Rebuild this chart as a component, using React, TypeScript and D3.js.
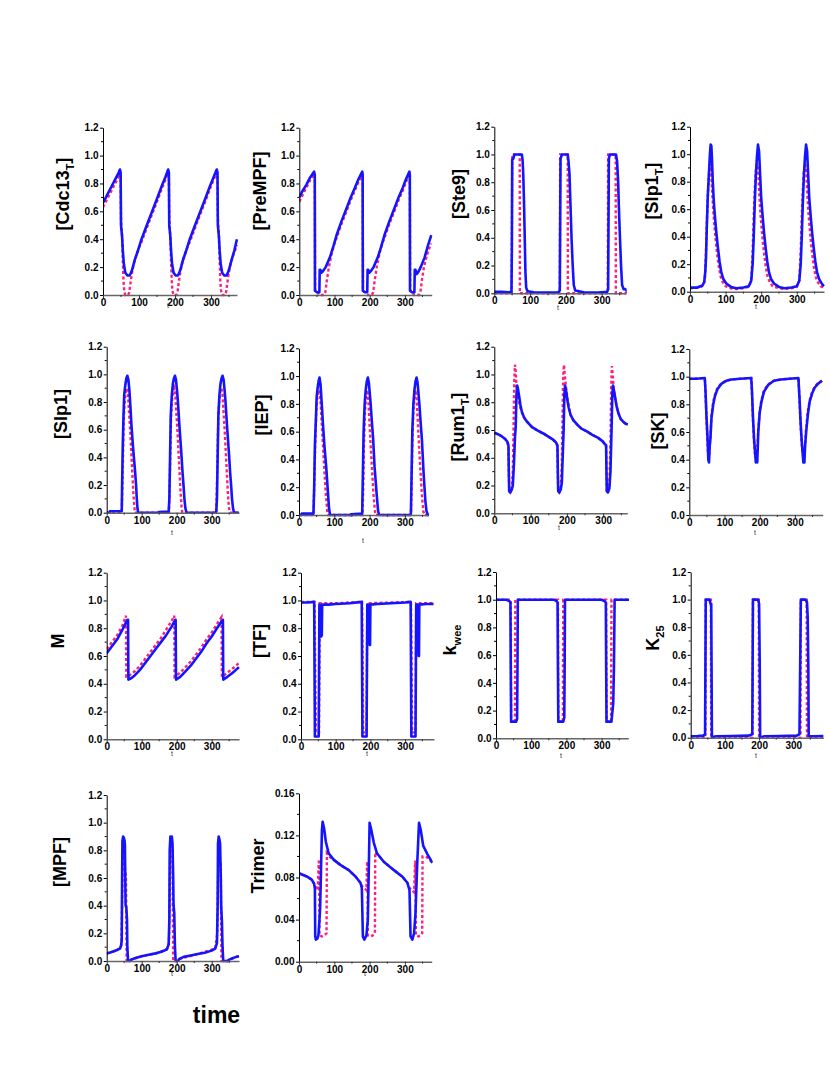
import React, { useEffect, useRef } from 'react';
import * as d3 from 'd3';

type Pt = [number, number];

// ticks shared by the panels
const xTicks = [0, 100, 200, 300];
const xMinor = [50, 150, 250, 350];
const yTicks = [0, 0.2, 0.4, 0.6, 0.8, 1.0, 1.2];
const trimerTicks = [0, 0.04, 0.08, 0.12, 0.16];

// [Cdc13T]
const cdc13Blue: Pt[] = [[0,0.66],[12,0.72],[24,0.78],[36,0.84],[44,0.88],[47,0.9],[49,0.88],[50,0.5],[53,0.42],[55,0.32],[58,0.22],[62,0.16],[68,0.14],[74,0.14],[78,0.16],[82,0.19],[88,0.25],[96,0.31],[107,0.4],[120,0.49],[135,0.59],[150,0.69],[163,0.78],[174,0.85],[181,0.9],[183,0.88],[184,0.5],[187,0.42],[189,0.32],[192,0.22],[196,0.16],[202,0.14],[208,0.14],[212,0.16],[216,0.19],[222,0.25],[230,0.31],[241,0.4],[254,0.49],[269,0.59],[284,0.69],[297,0.78],[308,0.85],[316,0.9],[318,0.88],[319,0.5],[322,0.42],[324,0.32],[327,0.22],[331,0.16],[337,0.14],[343,0.14],[347,0.16],[351,0.19],[357,0.25],[365,0.32],[372,0.4]];
const cdc13Pink: Pt[] = [[0,0.63],[12,0.69],[24,0.75],[36,0.81],[44,0.85],[47,0.87],[49,0.85],[50,0.55],[53,0.42],[55,0.25],[57,0.1],[59,0.03],[62,0.0],[70,0.0],[73,0.02],[76,0.08],[80,0.15],[85,0.22],[92,0.28],[100,0.34],[107,0.38],[120,0.47],[135,0.57],[150,0.67],[163,0.76],[174,0.83],[181,0.88],[183,0.86],[184,0.55],[187,0.42],[189,0.25],[191,0.1],[193,0.03],[196,0.0],[204,0.0],[207,0.02],[210,0.08],[214,0.15],[219,0.22],[226,0.28],[234,0.34],[241,0.38],[254,0.47],[269,0.57],[284,0.67],[297,0.76],[308,0.83],[316,0.88],[318,0.86],[319,0.55],[322,0.42],[324,0.25],[326,0.1],[328,0.03],[331,0.0],[339,0.0],[342,0.02],[345,0.08],[349,0.15],[354,0.22],[361,0.28],[368,0.33],[372,0.36]];

// [PreMPF]
const prempfBlue: Pt[] = [[0,0.7],[10,0.75],[20,0.79],[30,0.84],[38,0.87],[42,0.885],[44,0.86],[44.5,0.03],[50,0.02],[57,0.02],[58,0.18],[60,0.18],[63,0.16],[67,0.17],[75,0.2],[87,0.27],[97,0.35],[106,0.43],[120,0.53],[134,0.62],[146,0.7],[158,0.77],[168,0.83],[176,0.87],[179,0.885],[180,0.86],[180.5,0.03],[186,0.02],[193,0.02],[194,0.18],[196,0.18],[199,0.16],[203,0.17],[211,0.2],[223,0.27],[233,0.35],[242,0.43],[256,0.53],[270,0.62],[282,0.7],[294,0.77],[303,0.83],[310,0.87],[313,0.885],[314,0.86],[314.5,0.03],[320,0.02],[327,0.02],[328,0.18],[330,0.18],[333,0.15],[337,0.16],[345,0.2],[356,0.27],[366,0.36],[375,0.43]];
const prempfPink: Pt[] = [[0,0.67],[10,0.72],[20,0.77],[30,0.82],[38,0.85],[42,0.87],[44,0.85],[45,0.03],[52,0.02],[56,0.0],[70,0.0],[74,0.02],[78,0.1],[84,0.2],[92,0.3],[100,0.37],[106,0.41],[120,0.51],[134,0.6],[146,0.68],[158,0.75],[168,0.81],[176,0.85],[179,0.87],[180,0.85],[181,0.03],[188,0.02],[192,0.0],[206,0.0],[210,0.02],[214,0.1],[220,0.2],[228,0.3],[236,0.37],[242,0.41],[256,0.51],[270,0.6],[282,0.68],[294,0.75],[303,0.81],[310,0.85],[313,0.87],[314,0.85],[315,0.03],[322,0.02],[326,0.0],[340,0.0],[344,0.02],[348,0.1],[354,0.2],[362,0.28],[370,0.34],[375,0.37]];

// [Ste9]
const ste9Blue: Pt[] = [[0,0.01],[20,0.01],[40,0.008],[48,0.01],[49,0.3],[50,0.96],[53,0.97],[56,1.0],[77,1.0],[79,0.96],[81,0.85],[83,0.65],[85,0.4],[87,0.15],[89,0.04],[93,0.015],[110,0.008],[140,0.005],[179,0.008],[183,0.02],[184,0.5],[185,0.97],[189,1.0],[205,1.0],[207,0.96],[210,0.86],[213,0.62],[216,0.38],[219,0.2],[222,0.06],[226,0.02],[250,0.008],[290,0.005],[315,0.01],[318,0.03],[319,0.5],[320,0.97],[323,1.0],[340,1.0],[343,0.95],[346,0.8],[348,0.62],[351,0.4],[354,0.2],[357,0.06],[361,0.03],[366,0.03],[372,0.01],[378,0.01]];
const ste9Pink: Pt[] = [[0,0.0],[48,0.0],[49,0.3],[50,1.0],[71,1.0],[71.5,0.0],[183,0.0],[184,1.0],[205,1.0],[205.5,0.0],[317,0.0],[318,1.0],[339,1.0],[339.5,0.0],[378,0.0]];

// [Slp1T]
const slp1tBlue: Pt[] = [[0,0.03],[20,0.03],[35,0.045],[40,0.07],[43,0.15],[45,0.25],[47,0.45],[50,0.7],[53,0.85],[56,1.0],[58,1.07],[60,1.06],[62,0.95],[64,0.8],[67,0.65],[70,0.55],[74,0.43],[78,0.33],[83,0.22],[88,0.14],[94,0.09],[102,0.06],[115,0.035],[130,0.025],[150,0.03],[165,0.04],[172,0.08],[176,0.2],[179,0.4],[182,0.65],[185,0.85],[188,0.98],[191,1.07],[194,1.02],[197,0.85],[200,0.68],[204,0.55],[208,0.43],[212,0.33],[217,0.22],[222,0.14],[228,0.09],[236,0.06],[250,0.035],[265,0.025],[285,0.03],[300,0.04],[307,0.08],[311,0.2],[314,0.4],[317,0.65],[320,0.85],[323,0.98],[326,1.07],[329,1.02],[332,0.85],[335,0.68],[339,0.55],[343,0.43],[347,0.33],[352,0.22],[357,0.14],[363,0.09],[370,0.06],[376,0.04]];
const slp1tPink: Pt[] = [[0,0.025],[30,0.03],[38,0.05],[42,0.1],[45,0.3],[48,0.55],[51,0.75],[54,0.88],[57,0.93],[59,0.9],[62,0.75],[65,0.6],[68,0.5],[72,0.38],[76,0.28],[81,0.18],[86,0.11],[92,0.07],[100,0.04],[115,0.025],[130,0.02],[150,0.025],[165,0.035],[172,0.08],[176,0.3],[179,0.55],[182,0.75],[185,0.88],[188,0.93],[191,0.9],[194,0.75],[197,0.6],[200,0.5],[204,0.38],[208,0.28],[213,0.18],[218,0.11],[224,0.07],[232,0.04],[250,0.025],[265,0.02],[285,0.025],[300,0.035],[307,0.08],[311,0.3],[314,0.55],[317,0.75],[320,0.88],[323,0.93],[326,0.9],[329,0.75],[332,0.6],[335,0.5],[339,0.38],[343,0.28],[348,0.18],[353,0.11],[359,0.07],[367,0.04],[376,0.03]];

// [Slp1]
const slp1Blue: Pt[] = [[0,0.0],[8,0.0],[9,0.01],[43,0.01],[44,0.2],[46,0.5],[48,0.7],[50,0.85],[53,0.92],[56,0.97],[59,0.99],[62,0.96],[65,0.88],[67,0.8],[71,0.62],[76,0.45],[81,0.3],[84,0.2],[86,0.1],[88,0.03],[90,0.0],[148,0.0],[149,0.005],[177,0.008],[179,0.1],[181,0.4],[183,0.7],[186,0.85],[189,0.93],[192,0.97],[195,0.99],[198,0.96],[201,0.88],[203,0.82],[208,0.62],[213,0.44],[217,0.28],[220,0.18],[222,0.1],[225,0.03],[228,0.0],[312,0.0],[313,0.008],[315,0.1],[317,0.4],[319,0.7],[322,0.85],[325,0.93],[328,0.97],[331,0.99],[334,0.96],[337,0.88],[339,0.82],[344,0.62],[349,0.44],[353,0.28],[356,0.18],[358,0.1],[361,0.03],[364,0.0],[378,0.0]];
const slp1Pink: Pt[] = [[0,0.0],[43,0.0],[45,0.2],[47,0.45],[49,0.7],[52,0.82],[55,0.88],[58,0.9],[61,0.85],[64,0.72],[67,0.6],[70,0.45],[73,0.3],[76,0.15],[79,0.04],[81,0.0],[178,0.0],[180,0.2],[182,0.45],[184,0.7],[187,0.82],[190,0.88],[193,0.9],[196,0.85],[199,0.72],[202,0.6],[205,0.45],[208,0.3],[211,0.15],[214,0.04],[216,0.0],[313,0.0],[315,0.2],[317,0.45],[319,0.7],[322,0.82],[325,0.88],[328,0.9],[331,0.85],[334,0.72],[337,0.6],[340,0.45],[343,0.3],[346,0.15],[349,0.04],[352,0.0],[378,0.0]];

// [IEP]
const iepBlue: Pt[] = [[0,0.0],[7,0.0],[8,0.01],[41,0.01],[43,0.2],[45,0.5],[48,0.7],[50,0.85],[53,0.92],[56,0.97],[58,0.99],[61,0.94],[64,0.82],[68,0.65],[72,0.5],[77,0.35],[81,0.2],[85,0.05],[88,0.0],[146,0.0],[147,0.005],[179,0.01],[181,0.3],[183,0.6],[186,0.8],[189,0.9],[192,0.96],[195,0.99],[198,0.95],[203,0.8],[207,0.65],[210,0.55],[214,0.35],[220,0.15],[224,0.03],[227,0.0],[315,0.0],[317,0.01],[319,0.3],[321,0.6],[324,0.8],[327,0.9],[330,0.96],[333,0.99],[336,0.95],[341,0.8],[345,0.65],[348,0.55],[353,0.3],[358,0.1],[361,0.03],[365,0.0],[378,0.0]];
const iepPink: Pt[] = [[0,0.0],[41,0.0],[43,0.2],[46,0.5],[49,0.75],[52,0.85],[55,0.88],[58,0.9],[61,0.82],[64,0.68],[68,0.5],[72,0.32],[76,0.15],[80,0.03],[82,0.0],[180,0.0],[182,0.2],[184,0.5],[187,0.75],[190,0.85],[193,0.9],[196,0.85],[199,0.7],[203,0.5],[207,0.32],[211,0.15],[215,0.03],[217,0.0],[317,0.0],[319,0.2],[321,0.5],[324,0.75],[327,0.85],[330,0.9],[333,0.85],[336,0.7],[340,0.5],[344,0.32],[348,0.15],[352,0.03],[355,0.0],[378,0.0]];

// [Rum1T]
const rum1Blue: Pt[] = [[0,0.58],[10,0.57],[20,0.555],[30,0.535],[36,0.515],[39,0.49],[40,0.3],[41,0.16],[44,0.15],[48,0.17],[51,0.2],[54,0.35],[57,0.55],[59,0.62],[61,0.85],[63,0.92],[65,0.9],[68,0.85],[72,0.78],[76,0.73],[82,0.69],[90,0.66],[104,0.62],[120,0.595],[135,0.575],[150,0.55],[162,0.53],[170,0.51],[174,0.49],[175,0.3],[176,0.16],[179,0.15],[183,0.17],[186,0.22],[189,0.45],[191,0.6],[193,0.85],[195,0.92],[198,0.88],[201,0.82],[205,0.76],[210,0.71],[218,0.67],[228,0.64],[240,0.61],[255,0.59],[270,0.565],[285,0.545],[298,0.52],[304,0.5],[308,0.49],[309,0.3],[310,0.16],[313,0.15],[317,0.18],[320,0.3],[323,0.6],[325,0.85],[327,0.92],[330,0.88],[333,0.83],[337,0.77],[342,0.72],[348,0.68],[355,0.66],[362,0.645],[368,0.64]];
const rum1Pink: Pt[] = [[0,0.58],[10,0.57],[20,0.555],[30,0.535],[36,0.51],[39,0.48],[40,0.3],[41,0.16],[44,0.15],[48,0.17],[51,0.3],[53,0.6],[55,0.95],[57,1.07],[59,1.02],[61,0.92],[64,0.85],[68,0.8],[72,0.76],[76,0.73],[82,0.69],[90,0.66],[104,0.62],[120,0.595],[135,0.575],[150,0.55],[162,0.53],[170,0.51],[174,0.48],[175,0.3],[176,0.16],[179,0.15],[183,0.18],[186,0.35],[188,0.7],[190,1.0],[192,1.07],[194,1.0],[197,0.92],[201,0.84],[205,0.77],[210,0.71],[218,0.67],[228,0.64],[240,0.61],[255,0.59],[270,0.565],[285,0.545],[298,0.52],[304,0.5],[308,0.48],[309,0.3],[310,0.16],[313,0.15],[317,0.2],[320,0.5],[322,0.9],[324,1.06],[326,1.0],[329,0.9],[333,0.83],[337,0.77],[342,0.72],[348,0.68],[355,0.66],[362,0.645],[368,0.64]];

// [SK]
const skBlue: Pt[] = [[0,0.985],[20,0.985],[44,0.99],[46,0.9],[49,0.7],[52,0.55],[54,0.4],[56,0.38],[58,0.5],[60,0.55],[63,0.7],[68,0.8],[73,0.86],[80,0.91],[92,0.95],[105,0.97],[120,0.98],[145,0.985],[176,0.99],[178,0.9],[181,0.7],[184,0.55],[187,0.45],[189,0.38],[191,0.42],[193,0.38],[196,0.6],[200,0.74],[205,0.82],[212,0.89],[224,0.94],[240,0.97],[260,0.98],[285,0.985],[310,0.99],[313,0.85],[316,0.68],[319,0.55],[322,0.45],[324,0.38],[327,0.38],[329,0.5],[332,0.6],[337,0.73],[342,0.82],[349,0.88],[356,0.92],[366,0.95],[377,0.97]];
const skPink: Pt[] = [[0,0.985],[44,0.99],[46,0.88],[49,0.68],[52,0.5],[54,0.42],[56,0.42],[58,0.5],[60,0.58],[63,0.72],[68,0.82],[73,0.87],[80,0.92],[92,0.955],[105,0.972],[120,0.98],[145,0.985],[176,0.99],[178,0.88],[181,0.68],[184,0.52],[187,0.42],[190,0.42],[193,0.48],[196,0.62],[200,0.75],[205,0.83],[212,0.9],[224,0.945],[240,0.97],[260,0.98],[285,0.985],[310,0.99],[313,0.83],[316,0.66],[319,0.52],[322,0.44],[325,0.42],[328,0.48],[331,0.6],[336,0.74],[342,0.83],[349,0.89],[356,0.925],[366,0.955],[377,0.97]];

// M
const mBlue: Pt[] = [[0,0.62],[15,0.67],[30,0.72],[45,0.79],[59,0.86],[61,0.86],[62,0.43],[70,0.44],[80,0.46],[95,0.5],[110,0.55],[125,0.6],[140,0.65],[155,0.7],[170,0.75],[185,0.81],[196,0.86],[197,0.86],[198,0.43],[210,0.45],[225,0.49],[240,0.53],[255,0.58],[270,0.63],[285,0.69],[300,0.74],[315,0.8],[331,0.86],[332,0.86],[333,0.43],[345,0.45],[360,0.48],[378,0.52]];
const mPink: Pt[] = [[0,0.65],[15,0.7],[30,0.75],[45,0.82],[55,0.89],[56,0.45],[60,0.45],[70,0.47],[80,0.49],[95,0.53],[110,0.58],[125,0.63],[140,0.68],[155,0.73],[170,0.79],[185,0.85],[193,0.89],[194,0.45],[200,0.46],[210,0.48],[225,0.52],[240,0.56],[255,0.61],[270,0.66],[285,0.72],[300,0.77],[315,0.83],[328,0.88],[329,0.45],[335,0.46],[345,0.48],[360,0.51],[378,0.55]];

// [TF]
const tfBlue: Pt[] = [[0,0.985],[20,0.985],[38,0.99],[39,0.5],[40,0.02],[51,0.02],[52,0.5],[53,0.97],[57,0.96],[58,0.74],[60,0.75],[61,0.97],[80,0.97],[100,0.975],[140,0.98],[175,0.99],[176,0.5],[177,0.02],[189,0.02],[190,0.5],[191,0.97],[196,0.97],[198,0.68],[199,0.68],[200,0.97],[220,0.975],[260,0.98],[300,0.985],[316,0.99],[317,0.5],[318,0.02],[330,0.02],[331,0.5],[332,0.97],[337,0.97],[339,0.6],[340,0.6],[341,0.97],[360,0.975],[382,0.975]];
const tfPink: Pt[] = [[0,0.99],[39,0.99],[41,0.5],[43,0.05],[52,0.05],[53,0.5],[54,0.98],[100,0.98],[176,0.99],[178,0.5],[179,0.05],[189,0.05],[190,0.5],[191,0.98],[260,0.985],[317,0.99],[319,0.5],[320,0.05],[330,0.05],[331,0.5],[332,0.98],[382,0.98]];

// kwee
const kweeBlue: Pt[] = [[0,1.0],[30,1.0],[38,0.99],[41,0.98],[42,0.5],[43,0.12],[57,0.12],[60,0.14],[61,0.5],[62,1.0],[165,1.0],[172,0.99],[175,0.98],[176,0.5],[177,0.12],[191,0.12],[194,0.15],[195,0.5],[196,1.0],[300,1.0],[308,0.99],[312,0.98],[313,0.5],[314,0.12],[328,0.12],[331,0.2],[333,0.25],[335,0.5],[337,1.0],[378,1.0]];
const kweePink: Pt[] = [[0,1.0],[42,1.0],[43,0.12],[54,0.12],[55,1.0],[176,1.0],[177,0.12],[190,0.12],[191,1.0],[313,1.0],[314,0.12],[327,0.12],[328,1.0],[378,1.0]];

// K25
const k25Blue: Pt[] = [[0,0.01],[20,0.012],[37,0.015],[42,0.025],[43,0.5],[44,1.0],[55,1.0],[58,0.97],[60,0.97],[61,0.5],[62,0.005],[75,0.01],[120,0.012],[170,0.015],[180,0.025],[181,0.5],[182,1.0],[197,1.0],[200,0.97],[202,0.5],[203,0.0],[215,0.01],[260,0.012],[310,0.015],[318,0.025],[320,0.5],[322,1.0],[336,1.0],[340,0.98],[342,0.88],[344,0.5],[345,0.01],[360,0.01],[388,0.012]];
const k25Pink: Pt[] = [[0,0.0],[43,0.0],[44,1.0],[59,1.0],[60,0.0],[181,0.0],[182,1.0],[199,1.0],[200,0.0],[321,0.0],[322,1.0],[339,1.0],[340,0.0],[388,0.0]];

// [MPF]
const mpfBlue: Pt[] = [[0,0.055],[10,0.062],[20,0.07],[30,0.08],[38,0.09],[41,0.11],[43,0.15],[44,0.6],[45,0.87],[47,0.9],[49,0.89],[51,0.87],[52,0.84],[53,0.6],[54,0.4],[56,0.39],[58,0.3],[59,0.1],[61,0.0],[66,0.0],[70,0.01],[80,0.02],[100,0.035],[120,0.045],[140,0.055],[160,0.07],[172,0.085],[177,0.12],[179,0.3],[180,0.8],[182,0.9],[184,0.85],[186,0.9],[188,0.85],[190,0.6],[191,0.4],[193,0.35],[195,0.1],[197,0.0],[203,0.0],[208,0.015],[220,0.03],[240,0.04],[260,0.05],[280,0.06],[300,0.075],[310,0.09],[315,0.13],[317,0.4],[318,0.85],[320,0.9],[322,0.88],[324,0.85],[326,0.6],[327,0.4],[329,0.3],[331,0.1],[333,0.0],[345,0.0],[350,0.01],[360,0.02],[370,0.03],[378,0.035]];
const mpfPink: Pt[] = [[0,0.055],[20,0.07],[38,0.09],[42,0.12],[44,0.4],[46,0.8],[49,0.75],[53,0.65],[55,0.62],[56,0.3],[57,0.0],[66,0.0],[70,0.01],[100,0.035],[140,0.055],[172,0.085],[178,0.13],[180,0.5],[182,0.85],[185,0.82],[188,0.8],[189,0.4],[190,0.0],[203,0.0],[208,0.015],[260,0.05],[310,0.09],[316,0.2],[318,0.6],[321,0.75],[324,0.72],[326,0.7],[327,0.3],[328,0.0],[345,0.0],[360,0.02],[378,0.035]];

// Trimer
const trimerBlue: Pt[] = [[0,0.084],[22,0.081],[36,0.078],[43,0.074],[45,0.069],[46,0.024],[48,0.021],[52,0.022],[55,0.025],[58,0.04],[60,0.052],[63,0.097],[65,0.125],[67,0.133],[71,0.127],[76,0.114],[84,0.103],[98,0.097],[117,0.092],[141,0.087],[160,0.081],[174,0.075],[178,0.07],[181,0.024],[185,0.021],[191,0.025],[195,0.04],[198,0.094],[200,0.132],[205,0.125],[212,0.113],[221,0.103],[240,0.095],[269,0.087],[292,0.081],[307,0.075],[313,0.068],[316,0.024],[321,0.021],[326,0.027],[330,0.046],[335,0.094],[340,0.132],[345,0.125],[352,0.11],[364,0.102],[378,0.094]];
const trimerPink: Pt[] = [[0,0.084],[22,0.081],[36,0.078],[43,0.074],[48,0.07],[53,0.068],[56,0.095],[57,0.095],[58,0.025],[65,0.024],[72,0.025],[78,0.027],[79,0.103],[85,0.1],[98,0.097],[117,0.092],[141,0.087],[160,0.081],[174,0.075],[180,0.071],[185,0.07],[191,0.068],[193,0.095],[194,0.095],[195,0.025],[202,0.024],[209,0.025],[215,0.027],[216,0.104],[222,0.102],[240,0.095],[269,0.087],[292,0.081],[307,0.075],[313,0.07],[320,0.068],[326,0.066],[329,0.095],[330,0.095],[331,0.025],[338,0.024],[344,0.025],[349,0.027],[350,0.1],[356,0.1],[364,0.099],[378,0.094]];

const BLUE = '#1414ff';
const PINK = '#ff1e78';
const FONT = '"Liberation Sans", Arial, Helvetica, sans-serif';

// layout of each small panel (pixels): axis origin x0, axis end x1, px per time unit k,
// top / bottom of the y range, centre of the rotated label, and position of the little "t"
const panels = [
  { label: ['[Cdc13', 'T', ']'], blue: cdc13Blue, pink: cdc13Pink, yMax: 1.2, ticks: yTicks, fmt: '.1f', x0: 103, x1: 237, k: 0.36, yt: 127.7, yb: 295, lx: 63, ly: 194, t: [168, 308] },
  { label: ['[PreMPF]'], blue: prempfBlue, pink: prempfPink, yMax: 1.2, ticks: yTicks, fmt: '.1f', x0: 299.3, x1: 431.7, k: 0.352, yt: 127.7, yb: 295, lx: 260, ly: 191, t: null },
  { label: ['[Ste9]'], blue: ste9Blue, pink: ste9Pink, yMax: 1.2, ticks: yTicks, fmt: '.1f', x0: 494.3, x1: 625.7, k: 0.358, yt: 126.7, yb: 293.3, lx: 459, ly: 194, t: [558, 310] },
  { label: ['[Slp1', 'T', ']'], blue: slp1tBlue, pink: slp1tPink, yMax: 1.2, ticks: yTicks, fmt: '.1f', x0: 690, x1: 824, k: 0.356, yt: 126.7, yb: 291.7, lx: 652, ly: 191, t: [756, 309] },
  { label: ['[Slp1]'], blue: slp1Blue, pink: slp1Pink, yMax: 1.2, ticks: yTicks, fmt: '.1f', x0: 106.7, x1: 239, k: 0.35, yt: 346.7, yb: 512.7, lx: 61, ly: 414, t: [172, 535] },
  { label: ['[IEP]'], blue: iepBlue, pink: iepPink, yMax: 1.2, ticks: yTicks, fmt: '.1f', x0: 299, x1: 428, k: 0.353, yt: 348.3, yb: 515, lx: 262, ly: 415, t: [363, 543] },
  { label: ['[Rum1', 'T', ']'], blue: rum1Blue, pink: rum1Pink, yMax: 1.2, ticks: yTicks, fmt: '.1f', x0: 494.3, x1: 627.3, k: 0.363, yt: 346.7, yb: 513.3, lx: 458, ly: 427, t: [559, 530] },
  { label: ['[SK]'], blue: skBlue, pink: skPink, yMax: 1.2, ticks: yTicks, fmt: '.1f', x0: 689.3, x1: 822.7, k: 0.352, yt: 349, yb: 515, lx: 658, ly: 431, t: [755, 535] },
  { label: ['M'], blue: mBlue, pink: mPink, yMax: 1.2, ticks: yTicks, fmt: '.1f', x0: 106.7, x1: 239, k: 0.35, yt: 572.7, yb: 739.3, lx: 58, ly: 641, t: [172, 756] },
  { label: ['[TF]'], blue: tfBlue, pink: tfPink, yMax: 1.2, ticks: yTicks, fmt: '.1f', x0: 301, x1: 434, k: 0.347, yt: 572.7, yb: 739.3, lx: 260, ly: 641, t: [367, 756] },
  { label: ['k', 'wee', ''], blue: kweeBlue, pink: kweePink, yMax: 1.2, ticks: yTicks, fmt: '.1f', x0: 496, x1: 628.3, k: 0.352, yt: 572, yb: 738.3, lx: 450, ly: 640, t: [561, 758] },
  { label: ['K', '25', ''], blue: k25Blue, pink: k25Pink, yMax: 1.2, ticks: yTicks, fmt: '.1f', x0: 690.7, x1: 823.3, k: 0.342, yt: 572, yb: 737.7, lx: 653, ly: 638, t: [756, 758] },
  { label: ['[MPF]'], blue: mpfBlue, pink: mpfPink, yMax: 1.2, ticks: yTicks, fmt: '.1f', x0: 106.7, x1: 239, k: 0.35, yt: 795, yb: 961, lx: 60, ly: 862, t: [172, 976] },
  { label: ['Trimer'], blue: trimerBlue, pink: trimerPink, yMax: 0.16, ticks: trimerTicks, fmt: '.2f', x0: 299, x1: 431.7, k: 0.353, yt: 793.3, yb: 961.7, lx: 258, ly: 866, t: [365, 976] },
];

const App = () => {
  const svgRef = useRef<SVGSVGElement | null>(null);

  useEffect(() => {
    if (!svgRef.current) return;
    const svg = d3.select(svgRef.current);
    svg.selectAll('*').remove();

    panels.forEach((p, i) => {
      const xScale = d3.scaleLinear().domain([0, (p.x1 - p.x0) / p.k]).range([p.x0, p.x1]);
      const yScale = d3.scaleLinear().domain([0, p.yMax]).range([p.yb, p.yt]);
      const g = svg.append('g');

      // keep the traces inside the axis box horizontally
      const clipId = `clip-${i}`;
      svg.append('clipPath').attr('id', clipId)
        .append('rect')
        .attr('x', p.x0).attr('y', p.yt - 10)
        .attr('width', p.x1 - p.x0 + 1).attr('height', p.yb - p.yt + 12);

      const line = d3.line<Pt>().x(d => xScale(d[0])).y(d => yScale(d[1]));

      g.append('path')
        .datum(p.pink)
        .attr('clip-path', `url(#${clipId})`)
        .attr('fill', 'none')
        .attr('stroke', PINK)
        .attr('stroke-width', 2.4)
        .attr('stroke-dasharray', '3,2.4')
        .attr('d', line);

      g.append('path')
        .datum(p.blue)
        .attr('clip-path', `url(#${clipId})`)
        .attr('fill', 'none')
        .attr('stroke', BLUE)
        .attr('stroke-width', 2.6)
        .attr('stroke-linejoin', 'round')
        .attr('d', line);

      // y axis
      const yAxis = g.append('g')
        .attr('transform', `translate(${p.x0},0)`)
        .call(d3.axisLeft(yScale).tickValues(p.ticks).tickSize(3).tickSizeOuter(0).tickPadding(1.5)
          .tickFormat(d3.format(p.fmt) as any));
      yAxis.select('.domain').attr('stroke', '#000').attr('stroke-width', 1);
      yAxis.selectAll('.tick line').attr('stroke', '#000');
      yAxis.selectAll('text')
        .attr('font-family', FONT).attr('font-size', 10).attr('font-weight', 'bold').attr('fill', '#000');

      // minor y ticks halfway between the labelled ones
      const step = p.ticks[1] - p.ticks[0];
      g.selectAll(null)
        .data(p.ticks.slice(0, -1).map(v => v + step / 2))
        .enter().append('line')
        .attr('x1', p.x0 - 2).attr('x2', p.x0)
        .attr('y1', d => yScale(d)).attr('y2', d => yScale(d))
        .attr('stroke', '#000').attr('stroke-width', 1);

      // x axis
      const xAxis = g.append('g')
        .attr('transform', `translate(0,${p.yb})`)
        .call(d3.axisBottom(xScale).tickValues(xTicks).tickSize(3).tickSizeOuter(0).tickPadding(1));
      xAxis.select('.domain').attr('stroke', '#666').attr('stroke-width', 1.5);
      xAxis.selectAll('.tick line').attr('stroke', '#333');
      xAxis.selectAll('text')
        .attr('font-family', FONT).attr('font-size', 10).attr('font-weight', 'bold').attr('fill', '#000');

      g.selectAll(null)
        .data(xMinor.filter(v => xScale(v) <= p.x1))
        .enter().append('line')
        .attr('x1', d => xScale(d)).attr('x2', d => xScale(d))
        .attr('y1', p.yb).attr('y2', p.yb + 2)
        .attr('stroke', '#333').attr('stroke-width', 1);

      // rotated quantity label
      const lab = g.append('text')
        .attr('transform', `translate(${p.lx},${p.ly}) rotate(-90)`)
        .attr('text-anchor', 'middle')
        .attr('dy', '0.35em')
        .attr('font-family', FONT)
        .attr('font-size', 18)
        .attr('font-weight', 'bold')
        .attr('fill', '#000');
      lab.append('tspan').text(p.label[0]);
      if (p.label.length > 1) {
        lab.append('tspan').attr('dy', 5).attr('font-size', 11).text(p.label[1]);
        if (p.label[2]) lab.append('tspan').attr('dy', -5).text(p.label[2]);
      }

      // small "t" under the time axis
      if (p.t) {
        g.append('text')
          .attr('x', p.t[0]).attr('y', p.t[1])
          .attr('text-anchor', 'middle')
          .attr('font-family', FONT)
          .attr('font-size', 7)
          .attr('fill', '#333')
          .text('t');
      }
    });

    svg.append('text')
      .attr('x', 216.5).attr('y', 1023)
      .attr('text-anchor', 'middle')
      .attr('font-family', FONT)
      .attr('font-size', 23)
      .attr('font-weight', 'bold')
      .attr('fill', '#000')
      .text('time');
  }, []);

  return (
    <svg
      ref={svgRef}
      width={830}
      height={1075}
      style={{ position: 'absolute', left: 0, top: 0, background: '#fff', display: 'block' }}
    />
  );
};

export default App;
